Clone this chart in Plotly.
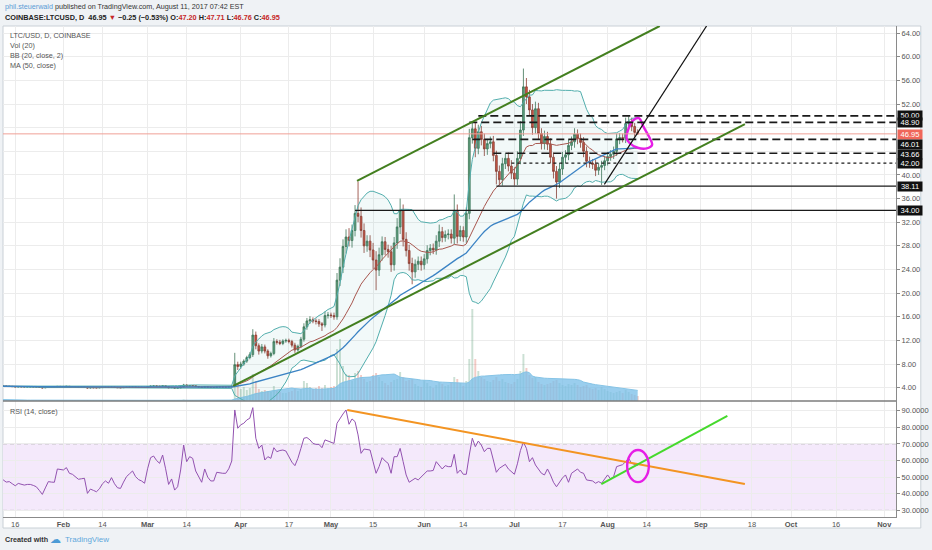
import pandas as pd
import plotly.graph_objects as go

# LTC/USD daily candles, Coinbase, 2017-01-11 .. 2017-08-11
start_day = "2017-01-11"
first_open = 4.22

closes = [
    # Jan 11 - 31
    4.25, 4.26, 4.22, 4.23, 4.19, 4.14, 4.17, 4.15, 4.14, 4.15, 4.15, 4.14, 4.12, 4.07, 3.98, 4.05, 4.12, 4.11, 4.11, 4.22, 4.21,
    # Feb
    4.21, 4.24, 4.18, 4.17, 4.14, 4.11, 4.12, 4.13, 3.96, 4.00, 3.99, 3.98, 4.01, 4.06, 4.09, 4.07, 4.12, 4.05, 4.00, 3.99, 4.05, 4.10, 4.13, 4.17, 4.11, 4.08, 4.07, 4.05,
    # Mar
    4.15, 4.27, 4.30, 4.26, 4.23, 4.32, 4.18, 4.00, 4.05, 3.93, 3.96, 4.12, 4.45, 4.30, 4.36, 4.34, 4.20, 4.12, 4.04, 4.16, 4.08, 4.04, 4.04, 4.12, 4.12, 4.11, 4.11, 4.16, 4.28, 7.90, 7.60,
    # Apr
    8.00, 8.50, 9.10, 9.60, 12.90, 11.10, 10.20, 10.90, 10.20, 9.40, 9.80, 11.80, 11.70, 11.50, 11.90, 12.00, 11.80, 11.20, 10.40, 11.00, 12.20, 14.30, 15.30, 15.50, 15.30, 15.20, 14.80, 14.60, 16.20, 16.30,
    # May
    16.2, 16.0, 22.2, 24.4, 27.9, 29.5, 28.9, 30.6, 33.5, 33.0, 30.6, 28.0, 28.8, 27.3, 25.6, 23.9, 26.5, 28.7, 27.4, 27.0, 24.8, 28.5, 31.2, 34.0, 29.1, 27.2, 25.0, 23.6, 24.9, 25.4, 24.8,
    # Jun
    25.8, 27.2, 27.6, 27.3, 28.8, 30.4, 29.4, 29.9, 30.0, 29.3, 34.0, 29.6, 30.6, 29.5, 33.5, 46.3, 47.8, 44.5, 47.3, 46.0, 44.4, 45.3, 45.6, 43.3, 40.6, 39.2, 41.9, 42.8, 41.5, 40.3,
    # Jul
    39.3, 42.8, 47.6, 54.9, 53.2, 51.0, 48.0, 51.2, 47.0, 45.3, 46.5, 45.2, 43.0, 40.6, 38.8, 41.0, 43.0, 43.4, 45.0, 45.6, 46.9, 46.2, 45.5, 44.0, 42.3, 42.0, 41.8, 40.8, 41.3, 41.6, 42.4,
    # Aug 1 - 11
    43.1, 43.5, 44.0, 46.1, 46.3, 46.2, 48.7, 49.0, 48.2, 47.2, 46.95,
]

# upper / lower shadow lengths of each candle
wick_up = [
    0.1, 0.06, 0.08, 0.05, 0.06, 0.07, 0.05, 0.05, 0.04, 0.05, 0.04, 0.05, 0.06, 0.08, 0.1, 0.06, 0.05, 0.04, 0.05, 0.06, 0.05,
    0.06, 0.05, 0.05, 0.04, 0.04, 0.05, 0.04, 0.05, 0.08, 0.05, 0.04, 0.04, 0.05, 0.06, 0.05, 0.04, 0.05, 0.06, 0.04, 0.04, 0.05, 0.05, 0.06, 0.07, 0.05, 0.04, 0.04, 0.05,
    0.08, 0.1, 0.09, 0.06, 0.05, 0.12, 0.08, 0.08, 0.06, 0.07, 0.05, 0.1, 0.2, 0.12, 0.1, 0.08, 0.06, 0.05, 0.05, 0.08, 0.06, 0.05, 0.04, 0.06, 0.05, 0.05, 0.05, 0.06, 0.1, 2.0, 0.5,
    0.4, 0.3, 0.3, 0.4, 1.0, 0.6, 0.4, 0.5, 0.4, 0.3, 0.3, 0.6, 0.4, 0.4, 0.3, 0.3, 0.3, 0.3, 0.4, 0.3, 0.4, 0.6, 0.5, 0.6, 0.4, 0.4, 0.4, 0.3, 0.7, 0.5,
    0.4, 0.5, 1.2, 1.5, 1.2, 1.3, 1.5, 1.0, 1.4, 5.4, 1.5, 1.2, 1.0, 1.0, 1.2, 1.5, 1.2, 0.9, 0.8, 0.8, 1.0, 1.0, 1.5, 2.0, 1.0, 1.2, 1.0, 1.0, 0.8, 0.8, 0.8,
    0.8, 0.9, 0.7, 0.8, 1.0, 1.2, 0.8, 0.7, 0.8, 0.8, 2.7, 1.0, 0.8, 0.7, 1.0, 1.5, 1.2, 1.0, 1.2, 1.0, 1.0, 0.8, 0.9, 1.0, 0.8, 1.0, 1.0, 0.8, 1.0, 1.0,
    1.0, 1.2, 1.5, 3.1, 1.5, 1.2, 1.0, 1.2, 1.0, 0.9, 1.0, 0.8, 1.0, 0.8, 0.9, 1.0, 0.9, 0.8, 1.0, 0.9, 1.0, 0.8, 0.8, 0.9, 0.8, 0.8, 0.7, 0.8, 0.7, 0.8, 0.8,
    0.8, 0.7, 0.8, 0.9, 0.8, 0.7, 1.0, 0.9, 0.7, 0.6, 0.51,
]
wick_dn = [
    0.08, 0.06, 0.07, 0.05, 0.06, 0.06, 0.05, 0.05, 0.04, 0.04, 0.04, 0.05, 0.06, 0.08, 0.12, 0.06, 0.05, 0.05, 0.05, 0.05, 0.05,
    0.05, 0.05, 0.06, 0.04, 0.05, 0.05, 0.04, 0.05, 0.1, 0.06, 0.05, 0.05, 0.05, 0.04, 0.05, 0.05, 0.04, 0.06, 0.05, 0.05, 0.04, 0.05, 0.05, 0.05, 0.05, 0.04, 0.05, 0.05,
    0.06, 0.07, 0.07, 0.06, 0.06, 0.07, 0.1, 0.12, 0.07, 0.1, 0.07, 0.06, 0.08, 0.1, 0.07, 0.06, 0.08, 0.07, 0.07, 0.06, 0.06, 0.05, 0.05, 0.05, 0.05, 0.05, 0.05, 0.05, 0.06, 0.15, 0.6,
    0.4, 0.3, 0.3, 0.3, 0.4, 0.6, 0.6, 0.4, 0.4, 0.5, 0.3, 0.3, 0.4, 0.3, 0.3, 0.3, 0.3, 0.4, 0.5, 0.3, 0.3, 0.4, 0.5, 0.5, 0.4, 0.5, 0.5, 1.0, 0.4, 0.5,
    0.4, 0.5, 0.5, 1.0, 1.0, 1.2, 1.0, 1.2, 1.0, 1.0, 1.2, 1.2, 1.0, 1.2, 1.5, 3.4, 1.0, 1.0, 1.0, 1.0, 1.2, 1.0, 1.0, 1.2, 1.2, 1.0, 1.2, 2.1, 1.0, 1.0, 1.0,
    0.8, 0.8, 0.8, 0.7, 0.8, 1.0, 0.8, 0.7, 0.8, 0.9, 1.0, 1.2, 0.8, 0.8, 1.0, 1.0, 1.0, 1.5, 1.0, 1.0, 1.2, 1.0, 0.8, 1.0, 2.2, 1.0, 1.0, 0.9, 0.9, 1.0,
    1.1, 1.0, 1.0, 1.0, 1.2, 1.0, 1.2, 1.0, 1.0, 1.0, 1.0, 1.0, 1.0, 1.2, 2.8, 1.0, 1.0, 1.0, 0.9, 0.8, 1.0, 1.0, 0.9, 1.0, 1.0, 0.8, 0.8, 1.0, 0.8, 3.0, 0.8,
    0.8, 0.7, 0.8, 0.8, 0.9, 0.7, 0.8, 0.9, 0.8, 0.7, 0.19,
]

# volume (relative units)
volume = [
    0.15, 0.12, 0.1, 0.09, 0.08, 0.08, 0.07, 0.07, 0.06, 0.07, 0.06, 0.06, 0.07, 0.08, 0.1, 0.08, 0.07, 0.06, 0.06, 0.08, 0.07,
    0.07, 0.06, 0.06, 0.05, 0.06, 0.05, 0.05, 0.06, 0.09, 0.07, 0.06, 0.05, 0.05, 0.06, 0.06, 0.05, 0.06, 0.07, 0.06, 0.05, 0.06, 0.06, 0.07, 0.08, 0.06, 0.05, 0.05, 0.06,
    0.07, 0.1, 0.09, 0.07, 0.06, 0.1, 0.09, 0.1, 0.08, 0.1, 0.08, 0.09, 0.15, 0.12, 0.1, 0.09, 0.08, 0.07, 0.08, 0.09, 0.08, 0.07, 0.07, 0.08, 0.07, 0.07, 0.07, 0.08, 0.12, 2.4, 1.8,
    1.2, 1.4, 1.1, 1.3, 2.7, 2.0, 1.2, 1.0, 1.1, 1.0, 0.9, 1.5, 1.0, 0.9, 0.8, 0.8, 0.9, 1.0, 1.2, 1.0, 1.2, 2.0, 1.8, 1.4, 1.2, 1.3, 1.5, 1.3, 1.6, 1.3,
    1.4, 1.5, 5.2, 6.2, 3.5, 2.7, 2.6, 2.0, 2.8, 3.0, 2.6, 2.2, 1.9, 2.0, 2.6, 2.8, 2.4, 2.0, 1.8, 1.6, 1.9, 2.1, 2.2, 2.9, 2.4, 2.0, 2.1, 2.2, 1.7, 1.5, 1.4,
    2.1, 1.8, 1.5, 1.3, 1.6, 1.9, 1.7, 1.5, 1.6, 1.8, 2.4, 2.2, 1.8, 1.5, 2.0, 4.2, 9.2, 4.2, 3.0, 2.4, 2.2, 2.0, 1.9, 2.1, 2.4, 2.0, 2.2, 1.9, 1.8, 1.7,
    1.9, 2.2, 3.0, 4.7, 3.3, 2.6, 2.3, 2.4, 1.9, 1.7, 1.6, 1.7, 1.8, 2.0, 2.1, 1.8, 1.6, 1.5, 1.7, 1.6, 1.8, 1.6, 1.4, 1.5, 1.6, 1.3, 1.2, 1.3, 1.1, 1.4, 1.2,
    1.0, 0.9, 0.8, 0.9, 1.0, 0.8, 1.1, 0.9, 0.7, 0.6, 0.5,
]

# RSI (14, close)
rsi = [
    48, 48.3, 47, 47.3, 46, 44.8, 46.2, 45.5, 45.2, 45.6, 45.6, 45, 44.2, 42, 39.6, 43.5, 47.3, 47, 46.9, 54.9, 54.5,
    54.3, 55.7, 52.3, 51.7, 50, 48.7, 49, 49.3, 40.2, 42.8, 42, 41.2, 43, 46, 47.7, 46.3, 49.7, 46, 43.6, 43.2, 47, 50.3, 52, 53.7, 50.3, 48.5, 47.7, 46.3,
    55, 61.7, 62.7, 60, 58.3, 63.3, 55, 45.6, 48.9, 42.2, 44.2, 54.3, 69.3, 59.3, 62.3, 61.3, 53.7, 50, 46.9, 54.9, 50, 47.7, 47.7, 52.9, 52.5, 52.3, 52.3, 55, 59.7, 90.4, 79.4,
    81.5, 82.4, 84.4, 85.4, 91.8, 73.4, 67.3, 69.3, 60.3, 62.3, 61.3, 67.7, 65.3, 66, 66.3, 65.7, 62.3, 59, 56.9, 61.3, 67.3, 73.4, 73.8, 72.4, 70.3, 69.7, 69.7, 67.7, 72.4, 71.7,
    71, 70.3, 82.4, 85.4, 88, 90.4, 81.8, 85, 83.4, 75.4, 64.3, 66.9, 66.5, 66.3, 59.3, 52.3, 56.3, 61.7, 59.7, 58.3, 52.3, 62.3, 62.3, 67.3, 59.3, 51.3, 46.9, 48, 49.3, 48.3, 50,
    52.3, 53.7, 53.7, 54, 59.3, 57.3, 54.9, 56.9, 56.3, 56.3, 63.7, 52.3, 54.3, 51.7, 51.7, 63.3, 73.4, 68.3, 71.7, 69.3, 65.3, 67.3, 67.3, 60.3, 52.9, 55.3, 56.5, 57.7, 54.9, 53,
    51.7, 58, 66, 71, 67.3, 59.3, 61.7, 57.3, 55, 52.3, 51.3, 54.9, 51.3, 46.9, 44.2, 47.3, 49.5, 51.3, 46.9, 52.3, 53.5, 54.9, 52.9, 52.3, 48.3, 48, 47.7, 46.3, 47.3, 46.3, 48.9,
    51.3, 48.9, 50.3, 56.3, 56.9, 57.5, 59.3, 61.3, 58.3, 57.7, 57,
]

# drawn levels and trend lines
levels = [50.00, 48.90, 46.01, 43.66, 42.00, 38.11, 34.00]
level_from = ["2017-06-19", "2017-06-16", "2017-06-17", "2017-06-24", "2017-06-30", "2017-06-25", "2017-05-09"]
level_kind = ["dash", "dash", "dash", "dash", "dot", "solid", "solid"]
last_price = 46.95

channel_up = [("2017-05-09 16:00", 39.0), ("2017-08-18 08:00", 65.2)]
channel_lo = [("2017-03-29 12:00", 4.3), ("2017-09-15 16:00", 48.6)]
trend_black = [("2017-07-30 22:00", 38.4), ("2017-09-02 22:00", 65.2)]
rsi_down = [("2017-05-06 10:00", 90.4), ("2017-09-15 16:00", 45.8)]
rsi_up = [("2017-07-29 22:00", 45.8), ("2017-09-09 20:00", 86.8)]

loop_days = [218.3, 219.0, 220.4, 222.4, 224.0, 226.0, 226.8, 225.0, 222.0, 219.3, 218.3]
loop_price = [46.25, 47.9, 49.2, 49.6, 48.1, 46.25, 45.1, 44.5, 44.6, 45.4, 46.25]
rsi_ring = [("2017-08-07 12:00", 47.0), ("2017-08-14 17:00", 66.3)]

tick_dates = ["2017-01-16", "2017-02-01", "2017-02-14", "2017-03-01", "2017-03-14", "2017-04-01",
              "2017-04-17", "2017-05-01", "2017-05-15", "2017-06-01", "2017-06-14", "2017-07-01",
              "2017-07-17", "2017-08-01", "2017-08-14", "2017-09-01", "2017-09-18", "2017-10-01",
              "2017-10-16", "2017-11-01"]
tick_text = ["16", "<b>Feb</b>", "14", "<b>Mar</b>", "14", "<b>Apr</b>", "17", "<b>May</b>", "15", "<b>Jun</b>",
             "14", "<b>Jul</b>", "17", "<b>Aug</b>", "14", "<b>Sep</b>", "18", "<b>Oct</b>", "16", "<b>Nov</b>"]
price_ticks = [4, 8, 12, 16, 20, 24, 28, 32, 36, 40, 52, 56, 60, 64]
rsi_ticks = [30, 40, 50, 60, 70, 80, 90]

# ---- derived series ----
dates = pd.date_range(start_day, periods=len(closes), freq="D")
opens = [first_open] + closes[:-1]
highs = [max(o, c) + w for o, c, w in zip(opens, closes, wick_up)]
lows = [min(o, c) - w for o, c, w in zip(opens, closes, wick_dn)]

cs = pd.Series(closes)
ma50 = cs.rolling(50, min_periods=1).mean()
basis = cs.rolling(20, min_periods=1).mean()
dev = cs.rolling(20, min_periods=1).std(ddof=0)
bb_up = basis + 2 * dev
bb_lo = basis - 2 * dev
vol_ma = pd.Series(volume).rolling(20, min_periods=1).mean()
vol_colors = ["rgba(107,165,131,0.35)" if c >= o else "rgba(215,84,66,0.30)" for o, c in zip(opens, closes)]
loop_x = pd.Timestamp("2017-01-01") + pd.to_timedelta(loop_days, unit="D")

FONT = "Liberation Sans, Arial, sans-serif"
x_range = ["2017-01-11 22:00", "2017-11-04 22:00"]
rsi_h = 116 / 491

fig = go.Figure()

fig.add_trace(go.Scatter(x=dates, y=vol_ma, mode="lines", fill="tozeroy",
                         fillcolor="rgba(120,190,232,0.75)", line=dict(color="#86c4e6", width=1),
                         xaxis="x", yaxis="y"))
fig.add_trace(go.Bar(x=dates, y=volume, marker_color=vol_colors, marker_line_width=0,
                     xaxis="x", yaxis="y"))

fig.add_trace(go.Scatter(x=dates, y=bb_up, mode="lines", line=dict(color="#52aead", width=1),
                         xaxis="x", yaxis="y3"))
fig.add_trace(go.Scatter(x=dates, y=bb_lo, mode="lines", line=dict(color="#52aead", width=1),
                         fill="tonexty", fillcolor="rgba(70,170,170,0.07)", xaxis="x", yaxis="y3"))
fig.add_trace(go.Scatter(x=dates, y=basis, mode="lines", line=dict(color="#a8574f", width=1),
                         xaxis="x", yaxis="y3"))
fig.add_trace(go.Scatter(x=dates, y=ma50, mode="lines", line=dict(color="#3b83c4", width=1.3),
                         xaxis="x", yaxis="y3"))
fig.add_trace(go.Candlestick(x=dates, open=opens, high=highs, low=lows, close=closes,
                             increasing=dict(line=dict(color="#3d7355", width=0.8), fillcolor="#5f9f7b"),
                             decreasing=dict(line=dict(color="#8c3a2e", width=0.8), fillcolor="#d3503e"),
                             xaxis="x", yaxis="y3"))
fig.add_trace(go.Scatter(x=loop_x, y=loop_price, mode="lines",
                         line=dict(color="#e61ee6", width=2.4, shape="spline"),
                         xaxis="x", yaxis="y3"))

fig.add_trace(go.Scatter(x=dates, y=rsi, mode="lines", line=dict(color="#9252b0", width=1),
                         xaxis="x2", yaxis="y2"))

shapes = []
# white chart frame
shapes.append(dict(type="rect", xref="paper", yref="paper", x0=0, x1=925 / 900, y0=-11 / 491, y1=1,
                   line=dict(color="#c9d0d6", width=1), fillcolor="white", layer="below"))
# RSI band
shapes.append(dict(type="rect", xref="paper", yref="y2", x0=0, x1=1, y0=30, y1=70,
                   fillcolor="#f4e9fb", line=dict(width=0), layer="below"))
for v in (30, 70):
    shapes.append(dict(type="line", xref="paper", yref="y2", x0=0, x1=1, y0=v, y1=v,
                       line=dict(color="#b4b4b4", width=1, dash="4px,3px"), layer="below"))
# current price line
shapes.append(dict(type="line", xref="x", yref="y3", x0=x_range[0], x1=x_range[1],
                   y0=last_price, y1=last_price, line=dict(color="#f0a096", width=1)))
# horizontal levels
dash_map = {"dash": "8px,4px", "dot": "3px,3px", "solid": "solid"}
width_map = {"dash": 1.6, "dot": 1.1, "solid": 1.4}
for lv, x0, kind in zip(levels, level_from, level_kind):
    shapes.append(dict(type="line", xref="x", yref="y3", x0=x0, x1=x_range[1], y0=lv, y1=lv,
                       line=dict(color="#1a1a1a", width=width_map[kind], dash=dash_map[kind])))
# trend lines
for seg, col, w in [(channel_up, "#437f1f", 2), (channel_lo, "#437f1f", 2), (trend_black, "#111111", 1.2)]:
    shapes.append(dict(type="line", xref="x", yref="y3", x0=seg[0][0], y0=seg[0][1],
                       x1=seg[1][0], y1=seg[1][1], line=dict(color=col, width=w)))
for seg, col in [(rsi_down, "#f39422"), (rsi_up, "#45d92c")]:
    shapes.append(dict(type="line", xref="x2", yref="y2", x0=seg[0][0], y0=seg[0][1],
                       x1=seg[1][0], y1=seg[1][1], line=dict(color=col, width=2)))
shapes.append(dict(type="circle", xref="x2", yref="y2", x0=rsi_ring[0][0], y0=rsi_ring[0][1],
                   x1=rsi_ring[1][0], y1=rsi_ring[1][1], line=dict(color="#e61ee6", width=2.4)))
# pane separator
shapes.append(dict(type="line", xref="paper", yref="paper", x0=0, x1=1, y0=rsi_h, y1=rsi_h,
                   line=dict(color="#7d7d7d", width=1.5)))

annotations = []
red = "#c62828"
annotations.append(dict(
    xref="paper", yref="paper", x=0, y=510 / 491, xanchor="left", yanchor="middle", showarrow=False,
    text="<span style='color:#5b9bd5'>phil.steuerwald</span> published on TradingView.com, August 11, 2017 07:42 EST",
    font=dict(family=FONT, size=7.2, color="#333")))
annotations.append(dict(
    xref="paper", yref="paper", x=0, y=499 / 491, xanchor="left", yanchor="middle", showarrow=False,
    text=("<b>COINBASE:LTCUSD, D  46.95 <span style='color:%s'>▼</span> −0.25 (−0.53%%) "
          "O:<span style='color:%s'>47.20</span> H:<span style='color:%s'>47.71</span> "
          "L:<span style='color:%s'>46.76</span> C:<span style='color:%s'>46.95</span></b>") % ((red,) * 5),
    font=dict(family=FONT, size=7.3, color="#222")))
for i, t in enumerate(["LTC/USD, D, COINBASE", "Vol (20)", "BB (20, close, 2)", "MA (50, close)"]):
    annotations.append(dict(xref="paper", yref="paper", x=5 / 900, y=(481 - 10 * i) / 491,
                            xanchor="left", yanchor="middle", showarrow=False, text=t,
                            font=dict(family=FONT, size=7.2, color="#555")))
annotations.append(dict(xref="paper", yref="paper", x=5 / 900, y=106 / 491, xanchor="left",
                        yanchor="middle", showarrow=False, text="RSI (14, close)",
                        font=dict(family=FONT, size=7.2, color="#555")))
annotations.append(dict(xref="paper", yref="paper", x=0, y=-22 / 491, xanchor="left", yanchor="middle",
                        showarrow=False, text="<b>Created with</b>",
                        font=dict(family=FONT, size=7.2, color="#333")))
annotations.append(dict(xref="paper", yref="paper", x=45 / 900, y=-22 / 491, xanchor="left", yanchor="middle",
                        showarrow=False, text="☁", font=dict(family="DejaVu Sans", size=11, color="#4d9bd6")))
annotations.append(dict(xref="paper", yref="paper", x=60 / 900, y=-22 / 491, xanchor="left", yanchor="middle",
                        showarrow=False, text="TradingView",
                        font=dict(family=FONT, size=8, color="#5fa8dc")))

# price tags on the right scale
tags = [50.00, 48.90, last_price, 46.01, 43.66, 42.00, 38.11, 34.00]
tag_shift = {46.95: -1, 46.01: -5, 43.66: -1}
for v in tags:
    annotations.append(dict(xref="paper", yref="y3", x=1, y=v, xanchor="left", yanchor="middle",
                            xshift=1, yshift=tag_shift.get(v, 0), showarrow=False,
                            text="%.2f" % v, width=24, height=9, borderpad=0,
                            bgcolor="#f0675a" if v == last_price else "#111111",
                            font=dict(family=FONT, size=7.5, color="white")))

grid = "#ececec"
fig.update_layout(
    width=932, height=550,
    margin=dict(l=3, r=29, t=26, b=33),
    paper_bgcolor="#eff2f5", plot_bgcolor="white",
    showlegend=False, bargap=0.35, boxgap=0.15,
    xaxis=dict(type="date", range=x_range, anchor="y", rangeslider=dict(visible=False),
               showticklabels=False, tickvals=tick_dates, showgrid=True, gridcolor=grid,
               zeroline=False),
    yaxis=dict(domain=[rsi_h, 1], range=[0, 37.5], visible=False, fixedrange=True),
    yaxis3=dict(overlaying="y", side="right", anchor="x", range=[1.75, 65.2],
                tickvals=price_ticks, ticktext=["%.2f" % v for v in price_ticks],
                showgrid=True, gridcolor=grid, zeroline=False, showline=True, linecolor="#8a8a8a",
                ticks="outside", ticklen=3, tickcolor="#8a8a8a",
                tickfont=dict(family=FONT, size=7.5, color="#555"),
                minor=dict(tickvals=[44, 48], showgrid=True, gridcolor=grid, ticks="")),
    xaxis2=dict(type="date", matches="x", anchor="y2", tickvals=tick_dates, ticktext=tick_text,
                showgrid=True, gridcolor=grid, showline=True, linecolor="#8a8a8a", zeroline=False,
                tickfont=dict(family=FONT, size=7.5, color="#555")),
    yaxis2=dict(domain=[0, rsi_h], range=[26, 95.8], side="right", anchor="x2",
                tickvals=rsi_ticks, ticktext=["%.4f" % v for v in rsi_ticks],
                showgrid=True, gridcolor=grid, zeroline=False, showline=True, linecolor="#8a8a8a",
                ticks="outside", ticklen=3, tickcolor="#8a8a8a",
                tickfont=dict(family=FONT, size=7.5, color="#555")),
    shapes=shapes,
    annotations=annotations,
)

# the page body has a default margin; drop it so the 932x550 figure fills the window
fig.write_html("out.html", config={"displayModeBar": False},
               post_script="document.body.style.margin='0';document.body.style.overflow='hidden';")
